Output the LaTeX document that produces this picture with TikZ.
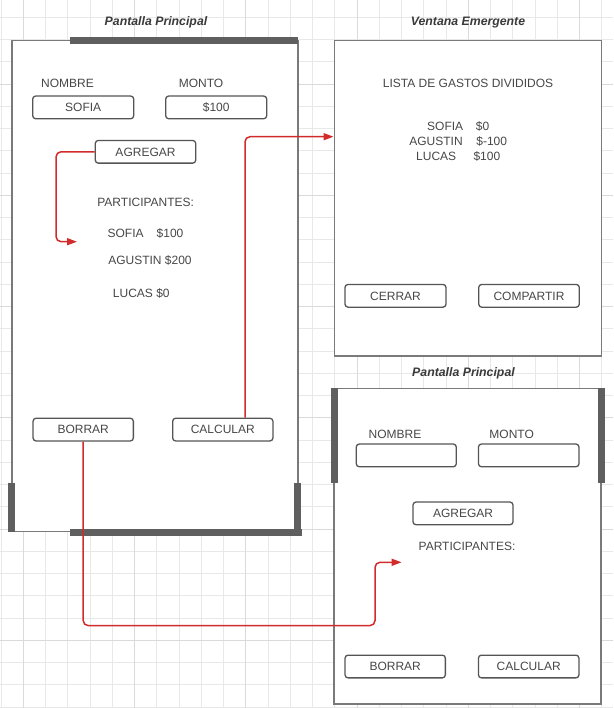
\documentclass[tikz,border=0pt]{standalone}
\usepackage{fontspec}
\setmainfont{Liberation Sans}
\usetikzlibrary{arrows.meta}
\definecolor{gridminor}{HTML}{E8E8E8}
\definecolor{gridmajor}{HTML}{DADADA}
\definecolor{framegray}{HTML}{7A7A7A}
\definecolor{bargray}{HTML}{5F5F5F}
\definecolor{btngray}{HTML}{555555}
\definecolor{txtgray}{HTML}{474747}
\definecolor{titlegray}{HTML}{3A3A3A}
\definecolor{linkred}{HTML}{D22B2B}
\tikzset{
  frame/.style={draw=framegray, line width=1.2pt, fill=white, inner sep=0pt},
  bar/.style={draw=bargray, line width=7pt, line cap=butt},
  btn/.style={draw=btngray, line width=1.3pt, rounded corners=3pt, fill=white, inner sep=0pt,
    text=txtgray, font=\fontsize{12}{14}\selectfont, minimum height=22.7pt,
    text height=8.6pt, text depth=0pt},
  lbl/.style={text=txtgray, font=\fontsize{12}{14}\selectfont, inner sep=0pt,
    text height=8.6pt, text depth=0pt},
  ttl/.style={text=titlegray, font=\fontsize{12.3}{14}\selectfont\bfseries\itshape, inner sep=0pt,
    text height=8.8pt, text depth=0pt},
  link/.style={draw=linkred, line width=1.5pt, rounded corners=5pt,
    -{Triangle[length=10pt,width=7pt]}},
  gmin/.style={draw=gridminor, line width=0.8pt},
  gmaj/.style={draw=gridmajor, line width=0.9pt}
}
\begin{document}
\begin{tikzpicture}[x=1pt,y=-1pt]
\useasboundingbox (0,0) rectangle (613,708);
\fill[white] (0,0) rectangle (613,708);
% background grid
\foreach \k in {0,...,27} \draw[gmin] ({1.05+22.25*\k},0) -- ++(0,708);
\foreach \k in {0,...,31} \draw[gmin] (0,{17.3+22.25*\k}) -- ++(613,0);
\foreach \k in {0,...,5} \draw[gmaj] ({23.3+111.25*\k},0) -- ++(0,708);
\foreach \k in {0,...,5} \draw[gmaj] (0,{84.05+111.25*\k}) -- ++(613,0);

% frames
\node[frame, minimum width=286pt, minimum height=491pt] (F1) at (155,286.2) {};
\node[frame, minimum width=267.4pt, minimum height=315.3pt] (F2) at (468,198.35) {};
\node[frame, minimum width=267pt, minimum height=315.7pt] (F3) at (467.5,546.15) {};

% thick bars
\draw[bar] (70,40.8) -- (298,40.8);
\draw[bar] (70,532) -- (301.5,532);
\draw[bar] (297.7,482.7) -- (297.7,535.5);
\draw[bar] (11.5,482.7) -- (11.5,531.7);
\draw[bar] (334,388.3) -- (334,482.7);
\draw[bar] (601,388.3) -- (601,482.7);

% titles
\node[ttl] (t1) at (156,21) {Pantalla Principal};
\node[ttl] (t2) at (468,21.5) {Ventana Emergente};
\node[ttl] (t3) at (463.5,372) {Pantalla Principal};

% first screen
\node[lbl] (nom1) at (67.5,83.3) {NOMBRE};
\node[lbl] (mon1) at (201,83.3) {MONTO};
\node[btn, minimum width=101pt] (fn1) at (83.2,107.4) {SOFIA};
\node[btn, minimum width=101pt] (fm1) at (216.2,107.4) {\$100};
\node[btn, minimum width=100.4pt] (ag1) at (145.5,151.8) {AGREGAR};
\node[lbl] (par1) at (145.7,202.7) {PARTICIPANTES:};
\node[lbl] (p1a) at (145.5,232.7) {SOFIA\hspace{13pt}\$100};
\node[lbl] (p1b) at (150,260) {AGUSTIN \$200};
\node[lbl] (p1c) at (141.3,293.3) {LUCAS \$0};
\node[btn, minimum width=100.3pt] (bor1) at (83.2,429.6) {BORRAR};
\node[btn, minimum width=100.3pt] (calc1) at (222.8,429.6) {CALCULAR};

% popup
\node[lbl] (lista) at (468,83.3) {LISTA DE GASTOS DIVIDIDOS};
\node[lbl] (r1) at (458.2,126.7) {SOFIA\hspace{12.7pt}\$0};
\node[lbl] (r2) at (458.2,141.7) {AGUSTIN\hspace{13.7pt}\$-100};
\node[lbl] (r3) at (458.2,156.7) {LUCAS\hspace{17.3pt}\$100};
\node[btn, minimum width=101pt] (cer) at (395.5,295.8) {CERRAR};
\node[btn, minimum width=100.6pt] (comp) at (529,295.8) {COMPARTIR};

% second screen
\node[lbl] (nom2) at (395,434) {NOMBRE};
\node[lbl] (mon2) at (511.7,434) {MONTO};
\node[btn, minimum width=100pt] (fn2) at (406.3,455.4) {};
\node[btn, minimum width=100.5pt] (fm2) at (528.7,455.4) {};
\node[btn, minimum width=100pt] (ag2) at (463,513.4) {AGREGAR};
\node[lbl] (par2) at (467,545.7) {PARTICIPANTES:};
\node[btn, minimum width=100.3pt] (bor2) at (395.2,666.5) {BORRAR};
\node[btn, minimum width=100.5pt] (calc2) at (528.7,666.5) {CALCULAR};

% red connectors
\coordinate (c1) at (77,241.7);
\coordinate (c2) at (333.5,136.7);
\coordinate (c3) at (401.6,562.3);
\draw[link] (ag1.west) -- ++(-38.6,0) |- (c1);
\draw[link] ([xshift=22.2pt]calc1.north) |- (c2);
\draw[link] (bor1.south) -- ++(0,184) -| ([xshift=-26.6pt]c3) -- (c3);
\end{tikzpicture}
\end{document}
